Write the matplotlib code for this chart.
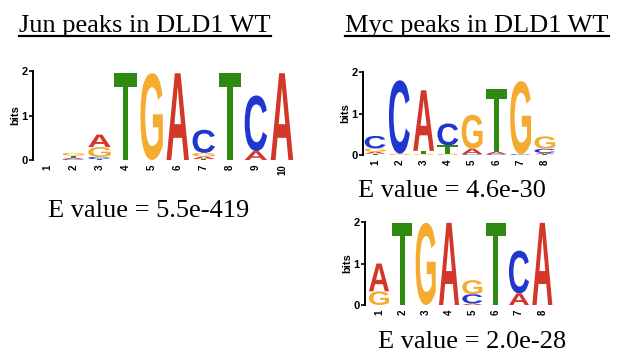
import matplotlib
matplotlib.use("Agg")
import matplotlib.pyplot as plt
from matplotlib.textpath import TextPath
from matplotlib.patches import PathPatch
from matplotlib.font_manager import FontProperties
from matplotlib.transforms import Affine2D
from matplotlib.lines import Line2D

W, H = 619, 360

# information content (bits) of each base at each motif position
jun_A = [0.00, 0.03, 0.28, 0.00, 0.00, 1.95, 0.06, 0.00, 0.20, 1.95]
jun_C = [0.00, 0.02, 0.05, 0.00, 0.00, 0.00, 0.52, 0.00, 1.25, 0.00]
jun_G = [0.00, 0.06, 0.22, 0.00, 1.95, 0.00, 0.08, 0.00, 0.00, 0.00]
jun_T = [0.00, 0.05, 0.02, 1.95, 0.00, 0.00, 0.02, 1.95, 0.00, 0.00]

myc_A = [0.05, 0.00, 1.46, 0.00, 0.13, 0.06, 0.00, 0.03]
myc_C = [0.30, 1.77, 0.00, 0.53, 0.02, 0.02, 0.02, 0.10]
myc_G = [0.08, 0.03, 0.02, 0.03, 0.82, 0.00, 1.76, 0.30]
myc_T = [0.03, 0.00, 0.08, 0.20, 0.00, 1.50, 0.00, 0.02]

ap1_A = [0.67, 0.00, 0.00, 1.98, 0.04, 0.00, 0.28, 1.98]
ap1_C = [0.00, 0.00, 0.00, 0.00, 0.22, 0.00, 1.03, 0.00]
ap1_G = [0.33, 0.00, 1.98, 0.00, 0.34, 0.00, 0.00, 0.00]
ap1_T = [0.00, 1.98, 0.00, 0.00, 0.00, 1.98, 0.00, 0.00]

titles = ["Jun peaks in DLD1 WT", "Myc peaks in DLD1 WT"]
evalues = ["E value = 5.5e-419", "E value = 4.6e-30", "E value = 2.0e-28"]

colors = {"A": "#d2372a", "C": "#1f36cf", "G": "#f5aa30", "T": "#2f8a12"}
glyph_font = FontProperties(family="Liberation Sans", weight="bold")
serif = "Liberation Serif"


def draw_letter(ax, letter, xc, y0, h, width=0.86):
    path = TextPath((0, 0), letter, size=1, prop=glyph_font)
    ext = path.get_extents()
    tr = (Affine2D()
          .translate(-ext.x0, -ext.y0)
          .scale(width / ext.width, h / ext.height)
          .translate(xc - width / 2, y0))
    ax.add_patch(PathPatch(tr.transform_path(path), facecolor=colors[letter],
                           edgecolor="none", transform=ax.transData))


def logo(fig, box, xlim, cols):
    left, top, right, bottom = box
    ax = fig.add_axes([left / W, 1 - bottom / H, (right - left) / W, (bottom - top) / H])
    n = len(cols["A"])
    for i in range(n):
        stack = sorted(((cols[b][i], b) for b in "ACGT"), key=lambda s: s[0])
        y = 0
        for h, b in stack:
            if h > 0:
                draw_letter(ax, b, i + 1, y, h)
                y += h
    ax.set_xlim(*xlim)
    ax.set_ylim(0, 2)
    for s in ["top", "right", "bottom"]:
        ax.spines[s].set_visible(False)
    ax.spines["left"].set_linewidth(1.4)
    ax.set_yticks([0, 1, 2])
    ax.set_yticklabels(["0", "1", "2"], fontsize=8, fontweight="bold", family="Liberation Sans")
    ax.tick_params(axis="y", length=3, width=1.2, pad=1)
    ax.set_xticks(range(1, n + 1))
    ax.set_xticklabels([str(i) for i in range(1, n + 1)], rotation=90,
                       fontsize=7, fontweight="bold", family="Liberation Sans")
    ax.tick_params(axis="x", length=0, pad=3)
    ax.set_ylabel("bits", fontsize=8, fontweight="bold", family="Liberation Sans", labelpad=1)
    ax.patch.set_alpha(0)
    return ax


fig = plt.figure(figsize=(W / 100, H / 100), dpi=100)

logo(fig, (33, 71, 295, 160), (0.45, 10.5), {"A": jun_A, "C": jun_C, "G": jun_G, "T": jun_T})
logo(fig, (363, 72, 557, 155), (0.5, 8.5), {"A": myc_A, "C": myc_C, "G": myc_G, "T": myc_T})
logo(fig, (365, 222, 554, 305), (0.4, 8.5), {"A": ap1_A, "C": ap1_C, "G": ap1_G, "T": ap1_T})

# underlined titles
title_texts = []
for x, t in zip([19, 345], titles):
    title_texts.append(fig.text(x / W, 1 - 32 / H, t, fontsize=19, family=serif, va="baseline"))

for x, y, t in zip([48, 358, 378], [217, 197, 348], evalues):
    fig.text(x / W, 1 - y / H, t, fontsize=19, family=serif, va="baseline")

fig.canvas.draw()
renderer = fig.canvas.get_renderer()
for txt in title_texts:
    bb = txt.get_window_extent(renderer)
    yl = 1 - 35.5 / H
    fig.add_artist(Line2D([bb.x0 / W, bb.x1 / W], [yl, yl], color="black", lw=1.6,
                          transform=fig.transFigure))

fig.savefig("out.png", dpi=100)
